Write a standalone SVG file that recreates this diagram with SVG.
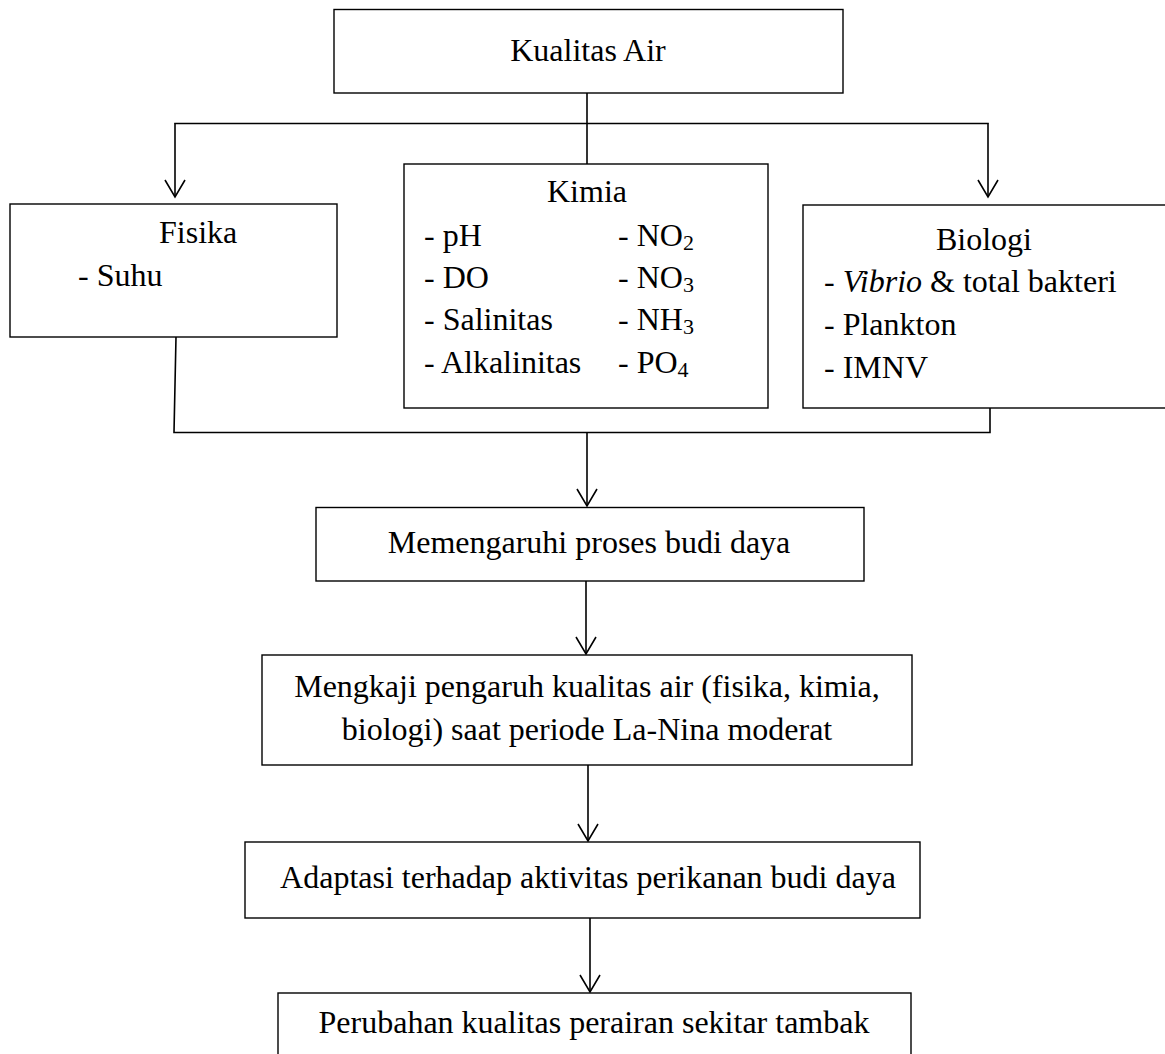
<svg xmlns="http://www.w3.org/2000/svg" width="1165" height="1054" viewBox="0 0 1165 1054">
<style>
.box{fill:#fff;stroke:#000;stroke-width:1.4}
.t{font-family:"Liberation Serif","Times New Roman",serif;font-size:32px;fill:#000}
.c{text-anchor:middle}
.ln{fill:none;stroke:#000;stroke-width:1.6}
.sub{font-size:22px}
</style>
<defs>
<marker id="arr" markerUnits="userSpaceOnUse" markerWidth="40" markerHeight="40" refX="0" refY="0" orient="auto" overflow="visible">
<path d="M-17,-10 L0,0 L-17,10" fill="none" stroke="#000" stroke-width="1.6"/>
</marker>
</defs>
<rect width="1165" height="1054" fill="#fff"/>
<g id="connectors">
<line class="ln" x1="587" y1="93" x2="587" y2="164"/>
<polyline class="ln" points="175,124 175,123.5 988,123.5 988,124"/>
<line class="ln" x1="175" y1="123.5" x2="175" y2="197" marker-end="url(#arr)"/>
<line class="ln" x1="988" y1="123.5" x2="988" y2="197" marker-end="url(#arr)"/>
<polyline class="ln" points="176,337 174,432.5 990,432.5 990,408"/>
<line class="ln" x1="587" y1="432.5" x2="587" y2="506" marker-end="url(#arr)"/>
<line class="ln" x1="586" y1="581" x2="586" y2="654" marker-end="url(#arr)"/>
<line class="ln" x1="588" y1="765" x2="588" y2="841" marker-end="url(#arr)"/>
<line class="ln" x1="590" y1="918" x2="590" y2="992" marker-end="url(#arr)"/>
</g>
<g id="kualitas-air">
<rect class="box" x="334" y="9.5" width="509" height="83.5"/>
<text class="t c" x="588" y="61">Kualitas Air</text>
</g>
<g id="fisika">
<rect class="box" x="10" y="204" width="327" height="133"/>
<text class="t" x="159" y="243">Fisika</text>
<text class="t" x="78" y="286">- Suhu</text>
</g>
<g id="kimia">
<rect class="box" x="404" y="164" width="364" height="244"/>
<text class="t c" x="587" y="202">Kimia</text>
<text class="t" x="424" y="246">- pH</text>
<text class="t" x="424" y="288">- DO</text>
<text class="t" x="424" y="330">- Salinitas</text>
<text class="t" x="424" y="373">- Alkalinitas</text>
<text class="t" x="618" y="246">- NO<tspan class="sub" dy="4">2</tspan></text>
<text class="t" x="618" y="288">- NO<tspan class="sub" dy="4">3</tspan></text>
<text class="t" x="618" y="330">- NH<tspan class="sub" dy="4">3</tspan></text>
<text class="t" x="618" y="373">- PO<tspan class="sub" dy="4">4</tspan></text>
</g>
<g id="biologi">
<rect class="box" x="803" y="205" width="370" height="203"/>
<text class="t c" x="984" y="250">Biologi</text>
<text class="t" x="824" y="292">- <tspan font-style="italic">Vibrio</tspan> &amp; total bakteri</text>
<text class="t" x="824" y="335">- Plankton</text>
<text class="t" x="824" y="378">- IMNV</text>
</g>
<g id="memengaruhi">
<rect class="box" x="316" y="507.5" width="548" height="73.5"/>
<text class="t c" x="589" y="553">Memengaruhi proses budi daya</text>
</g>
<g id="mengkaji">
<rect class="box" x="262" y="655" width="650" height="110"/>
<text class="t c" x="587" y="697">Mengkaji pengaruh kualitas air (fisika, kimia,</text>
<text class="t c" x="587" y="740">biologi) saat periode La-Nina moderat</text>
</g>
<g id="adaptasi">
<rect class="box" x="245" y="842" width="675" height="76"/>
<text class="t c" x="588" y="888">Adaptasi terhadap aktivitas perikanan budi daya</text>
</g>
<g id="perubahan">
<rect class="box" x="278" y="993" width="633" height="80"/>
<text class="t c" x="594" y="1033">Perubahan kualitas perairan sekitar tambak</text>
</g>
</svg>
